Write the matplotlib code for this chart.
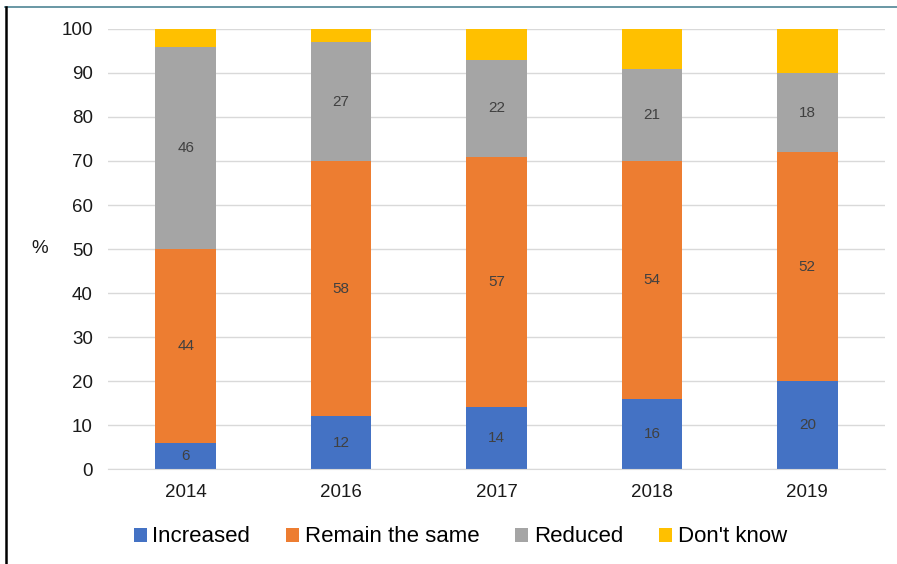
import matplotlib.pyplot as plt
import numpy as np
from matplotlib.lines import Line2D

plt.rcParams['font.family'] = ['Liberation Sans', 'DejaVu Sans']

years = ['2014', '2016', '2017', '2018', '2019']
increased = [6, 12, 14, 16, 20]
remain = [44, 58, 57, 54, 52]
reduced = [46, 27, 22, 21, 18]
dont_know = [4, 3, 7, 9, 10]

series = [('Increased', increased, '#4472C4', True),
          ('Remain the same', remain, '#ED7D31', True),
          ('Reduced', reduced, '#A5A5A5', True),
          ("Don't know", dont_know, '#FFC000', False)]

fig = plt.figure(figsize=(8.97, 5.64), dpi=100)
ax = fig.add_axes([0.1204, 0.1684, 0.8662, 0.7802])

x = np.arange(len(years))
bottom = np.zeros(len(years))
for name, vals, color, show in series:
    bars = ax.bar(x, vals, 0.39, bottom=bottom, color=color, label=name, zorder=3)
    if show:
        for rect, v in zip(bars, vals):
            ax.text(rect.get_x() + rect.get_width() / 2, rect.get_y() + v / 2, str(v),
                    ha='center', va='center', fontsize=11, color='#404040', zorder=4)
    bottom += np.array(vals)

ax.set_xlim(-0.5, len(years) - 0.5)
ax.set_ylim(0, 100)
ax.set_yticks(range(0, 101, 10))
ax.set_xticks(x)
ax.set_xticklabels(years)
ax.tick_params(axis='both', length=0, labelsize=13.5, colors='#1a1a1a')
ax.tick_params(axis='y', pad=11)
ax.tick_params(axis='x', pad=11)
ax.yaxis.grid(True, color='#d9d9d9', linewidth=1, zorder=0)
for s in ['top', 'right', 'left']:
    ax.spines[s].set_visible(False)
ax.spines['bottom'].set_color('#d9d9d9')
ax.spines['bottom'].set_zorder(5)

fig.text(40 / 897, 1 - 249 / 564, '%', ha='center', va='center', fontsize=13.5, color='#1a1a1a')

handles, labels = ax.get_legend_handles_labels()
fig.legend(handles, labels, loc='center', bbox_to_anchor=(0.513, 1 - 537 / 564), ncol=4,
           frameon=False, fontsize=16, handlelength=0.6, handleheight=0.6,
           handletextpad=0.25, columnspacing=1.6)

# frame lines from the screenshot
fig.add_artist(Line2D([5 / 897, 1], [1 - 7 / 564, 1 - 7 / 564], color='#4f8595', linewidth=1.2))
fig.add_artist(Line2D([6 / 897, 6 / 897], [0, 1 - 7 / 564], color='black', linewidth=1.8))

fig.savefig('out.png', dpi=100)
